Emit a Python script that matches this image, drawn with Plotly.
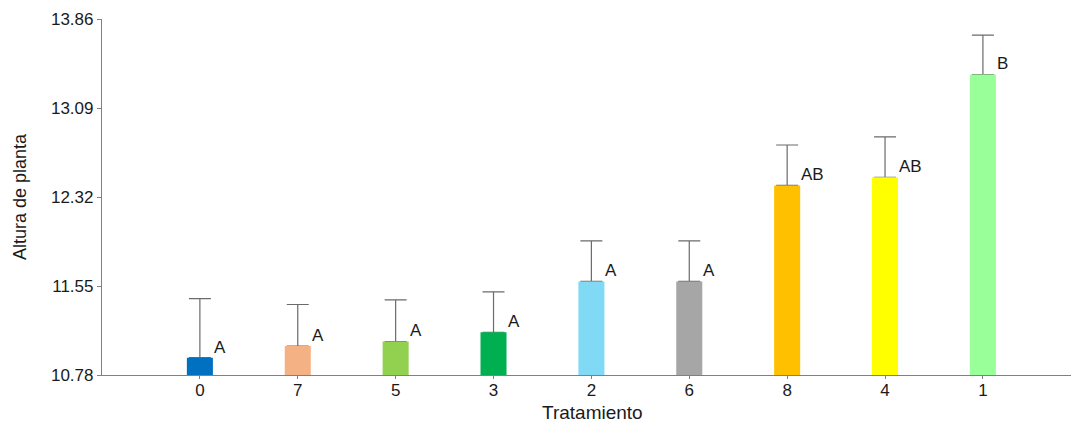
import plotly.graph_objects as go

categories = ["0", "7", "5", "3", "2", "6", "8", "4", "1"]
means = [10.93, 11.03, 11.07, 11.15, 11.59, 11.59, 12.42, 12.49, 13.38]
errors = [0.51, 0.36, 0.36, 0.35, 0.35, 0.35, 0.35, 0.35, 0.34]
letters = ["A", "A", "A", "A", "A", "A", "AB", "AB", "B"]
colors = ["#0070C0", "#F4B183", "#92D050", "#00B050", "#80DAF6",
          "#A6A6A6", "#FFC000", "#FFFF00", "#99FF99"]
y_ticks = [10.78, 11.55, 12.32, 13.09, 13.86]
x_title = "Tratamiento"
y_title = "Altura de planta"

xs = list(range(len(categories)))
bar_w = 0.266
font_family = "Liberation Sans, Arial, sans-serif"
L, R, T, B = 102, 2, 19, 48
W, H = 1073, 423
pw, ph = W - L - R, H - T - B

fig = go.Figure()
# error bars (drawn first so that the coloured bars hide the lower cap)
fig.add_trace(go.Bar(
    x=xs, y=means, width=bar_w,
    marker=dict(color="rgba(0,0,0,0)", line=dict(width=0)),
    error_y=dict(type="data", symmetric=False, array=errors,
                 arrayminus=[0] * len(errors), color="#6b6b6b",
                 thickness=1.2, width=11),
    hoverinfo="skip", showlegend=False,
))
fig.add_trace(go.Bar(
    x=xs, y=means, width=bar_w,
    marker=dict(color=colors, line=dict(width=0)),
    showlegend=False,
))

for xi, m, lab in zip(xs, means, letters):
    fig.add_annotation(x=xi + bar_w / 2, y=m, text=lab, showarrow=False,
                       xanchor="left", yanchor="bottom", xshift=-1, yshift=-1,
                       font=dict(family=font_family, size=17, color="#1a1a1a"))

# axis titles
fig.add_annotation(xref="paper", yref="paper", x=(592 - L) / pw, y=-(412 - (H - B)) / ph,
                   text=x_title, showarrow=False, xanchor="center", yanchor="middle",
                   font=dict(family=font_family, size=19, color="#1a1a1a"))
fig.add_annotation(xref="paper", yref="paper", x=(20 - L) / pw, y=0.5,
                   text=y_title, showarrow=False, textangle=-90,
                   xanchor="center", yanchor="middle",
                   font=dict(family=font_family, size=18, color="#1a1a1a"))

fig.update_layout(
    width=W, height=H,
    margin=dict(l=L, r=R, t=T, b=B),
    plot_bgcolor="white", paper_bgcolor="white",
    barmode="overlay",
    font=dict(family=font_family, color="#1a1a1a"),
    xaxis=dict(
        range=[-1.0, 8.9], tickvals=xs, ticktext=categories,
        showgrid=False, zeroline=False,
        showline=True, linecolor="#808080", linewidth=1.2,
        ticks="outside", ticklen=3, tickcolor="#808080",
        ticklabelstandoff=-4,
        tickfont=dict(size=17, color="#1a1a1a"),
    ),
    yaxis=dict(
        range=[10.78, 13.86], tickvals=y_ticks, tickformat=".2f",
        showgrid=False, zeroline=False,
        showline=True, linecolor="#808080", linewidth=1.2,
        ticks="outside", ticklen=4, tickcolor="#808080",
        tickfont=dict(size=17, color="#1a1a1a"),
    ),
)

fig.write_html("out.html")
